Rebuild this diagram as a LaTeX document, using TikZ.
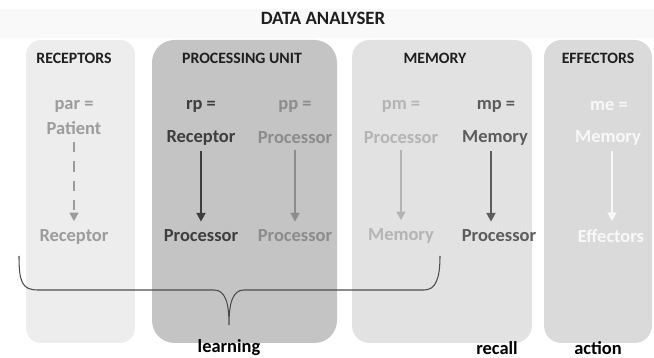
\documentclass[tikz,border=0pt]{standalone}
\usepackage{fontspec}
\setmainfont{Carlito}
\usetikzlibrary{arrows.meta,positioning}
\usepackage{xcolor}

\definecolor{recfill}{HTML}{EDEDED}
\definecolor{pufill}{HTML}{C4C4C4}
\definecolor{memfill}{HTML}{E2E2E2}
\definecolor{efffill}{HTML}{DADADA}
\definecolor{recgray}{HTML}{9C9C9C}
\definecolor{rpgray}{HTML}{3E3E3E}
\definecolor{ppgray}{HTML}{8C8C8C}
\definecolor{pmgray}{HTML}{B4B4B4}
\definecolor{mpgray}{HTML}{5C5C5C}
\definecolor{megray}{HTML}{F8F8F8}

\tikzset{
    head/.style={font=\fontsize{9}{11}\selectfont\bfseries, text=black!88},
    term/.style={font=\fontsize{10.5}{12}\selectfont\bfseries, inner sep=1pt},
    flow/.style={-{Triangle[width=5pt,length=5pt]}, line width=1.3pt, shorten <=2pt, shorten >=3.5pt},
}

\begin{document}
\begin{tikzpicture}[x=0.02cm,y=-0.02cm]
        \useasboundingbox (0,0) rectangle (654,358);
        % Draw title band
        \fill[gray!5] (0,9) rectangle (654,38);
        \node[head, font=\fontsize{10.7}{12}\selectfont\bfseries] (title) at (323,18) {DATA ANALYSER};
        % Draw the four panels
        \fill[recfill, rounded corners=0.3cm] (26,40) rectangle (135,343);
        \fill[pufill, rounded corners=0.45cm] (152,40) rectangle (337,343);
        \fill[memfill, rounded corners=0.35cm] (352,40) rectangle (532,343);
        \fill[efffill, rounded corners=0.35cm] (544,40) rectangle (652,343);
        % Draw panel headings
        \node[head] (receptors) at (74,58) {RECEPTORS};
        \node[head] (unit) at (242,58) {PROCESSING UNIT};
        \node[head] (memory) at (435,58) {MEMORY};
        \node[head] (effectors) at (598,58) {EFFECTORS};
        % Draw receptors column
        \node[term, text=recgray] (parA) at (74,106) {par =};
        \node[term, text=recgray] (parB) at (74,128) {Patient};
        \node[term, text=recgray] (parC) at (74,237) {Receptor};
        \draw[flow, recgray, line width=1.5pt, dash pattern=on 6pt off 5pt, shorten <=3pt] (parB) -- (parC);
        % Draw processing unit columns
        \node[term, text=rpgray] (rpA) at (201,106) {rp =};
        \node[term, text=rpgray] (rpB) at (201,138) {Receptor};
        \node[term, text=rpgray] (rpC) at (201,236) {Processor};
        \draw[flow, rpgray] (rpB) -- (rpC);
        \node[term, text=ppgray] (ppA) at (295,106) {pp =};
        \node[term, text=ppgray] (ppB) at (295,138) {Processor};
        \node[term, text=ppgray] (ppC) at (295,236) {Processor};
        \draw[flow, ppgray] (ppB) -- (ppC);
        % Draw memory columns
        \node[term, text=pmgray] (pmA) at (401,106) {pm =};
        \node[term, text=pmgray] (pmB) at (401,138) {Processor};
        \node[term, text=pmgray] (pmC) at (401,236) {Memory};
        \draw[flow, pmgray] (pmB) -- (pmC);
        \node[term, text=mpgray] (mpA) at (496,106) {mp =};
        \node[term, text=mpgray] (mpB) at (495,138) {Memory};
        \node[term, text=mpgray] (mpC) at (499,236) {Processor};
        \draw[flow, mpgray] (mpB.south -| 491,0) -- (mpC.north -| 491,0);
        % Draw effectors column
        \node[term, text=megray] (meA) at (609,106) {me =};
        \node[term, text=megray] (meB) at (608,138) {Memory};
        \node[term, text=megray] (meC) at (611,236) {Effectors};
        \draw[flow, megray] (meB.south -| 612,0) -- (meC.north -| 612,0);
        % Draw brace
        \draw[black!70, line width=0.6pt] (19,256) .. controls (19,282) and (22,290) .. (38,290)
            -- (214,290) .. controls (225,290) and (229,302) .. (229,325)
            .. controls (229,302) and (233,290) .. (244,290)
            -- (424,290) .. controls (436,290) and (440,278) .. (440,256);
        % Draw bottom labels
        \node[term, text=black] (learning) at (229,348) {learning};
        \node[term, text=black] (recall) at (497,348) {recall};
        \node[term, text=black] (action) at (598,348) {action};
    \end{tikzpicture}
\end{document}
